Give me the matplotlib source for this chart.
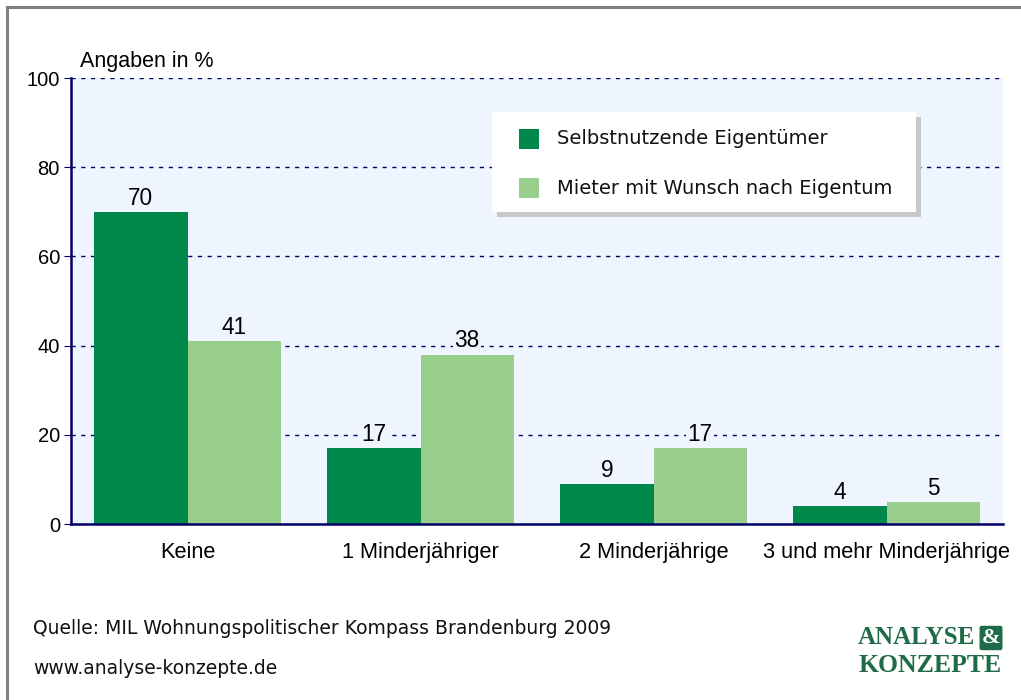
import matplotlib.pyplot as plt
import numpy as np
from matplotlib.patches import Rectangle

categories = ['Keine', '1 Minderjähriger', '2 Minderjährige', '3 und mehr Minderjährige']
eigentuemer = [70, 17, 9, 4]
mieter = [41, 38, 17, 5]
series_names = ['Selbstnutzende Eigentümer', 'Mieter mit Wunsch nach Eigentum']

dark = '#00874a'
light = '#99ce8c'
navy = '#000066'
panel = '#eef5ff'

fig = plt.figure(figsize=(10.21, 7), dpi=100)
ax = fig.add_axes([71/1021, 1-524/700, (1003-71)/1021, (524-78)/700])
ax.set_facecolor(panel)

x = np.arange(len(categories))
w = 0.4
b1 = ax.bar(x - w/2, eigentuemer, w, color=dark, zorder=3)
b2 = ax.bar(x + w/2, mieter, w, color=light, zorder=3)

for bars, vals in ((b1, eigentuemer), (b2, mieter)):
    for r, v in zip(bars, vals):
        ax.annotate(str(v), (r.get_x() + r.get_width()/2, v), xytext=(0, 1.5),
                    textcoords='offset points', ha='center', va='bottom',
                    fontsize=16.3, family='Liberation Sans', zorder=4,
                    bbox=dict(boxstyle='square,pad=0.05', fc=panel, ec='none'))

ax.set_xlim(-0.5, 3.5)
ax.set_ylim(0, 100)
ax.set_yticks([0, 20, 40, 60, 80, 100])
ax.set_xticks(x)
ax.set_xticklabels(categories)
for lab in ax.get_yticklabels():
    lab.set_family('Liberation Sans')
    lab.set_fontsize(14.5)
for lab in ax.get_xticklabels():
    lab.set_family('Liberation Sans')
    lab.set_fontsize(15.7)
ax.tick_params(axis='x', length=0, pad=13)
ax.tick_params(axis='y', length=5, color=navy, pad=3)
ax.grid(axis='y', color=navy, linestyle=(0, (3, 4)), linewidth=1, zorder=1)
for s in ('top', 'right'):
    ax.spines[s].set_visible(False)
for s in ('left', 'bottom'):
    ax.spines[s].set_color(navy)
    ax.spines[s].set_linewidth(1.8)
    ax.spines[s].set_zorder(5)

# legend box with shadow
lx0, ly0, lx1, ly1 = 492, 112, 916, 212
fig.patches.append(Rectangle((lx0 + 5, 700 - ly1 - 5), lx1 - lx0, ly1 - ly0,
                             transform=None, fc='#c8c8c8', ec='none', zorder=5))
fig.patches.append(Rectangle((lx0, 700 - ly1), lx1 - lx0, ly1 - ly0,
                             transform=None, fc='white', ec='none', zorder=6))
for i, (name, col) in enumerate(zip(series_names, (dark, light))):
    yc = 139 + i * 49
    fig.patches.append(Rectangle((519, 700 - yc - 10), 20, 20, transform=None,
                                 fc=col, ec='none', zorder=7))
    fig.text(557/1021, 1 - yc/700, name, fontsize=14, va='center', ha='left',
             family='DejaVu Sans', color='#111111', zorder=8)

fig.text(80/1021, 1 - 62/700, 'Angaben in %', fontsize=15.5, va='center',
         family='Liberation Sans')
fig.text(33/1021, 1 - 628/700, 'Quelle: MIL Wohnungspolitischer Kompass Brandenburg 2009',
         fontsize=13.5, va='center', family='DejaVu Sans', color='#111111')
fig.text(33/1021, 1 - 668/700, 'www.analyse-konzepte.de',
         fontsize=13.5, va='center', family='DejaVu Sans', color='#111111')

# logo
logo_c = '#1f6b47'
fig.text(858/1021, 1 - 638/700, 'ANALYSE', fontsize=18, fontweight='bold',
         family='Liberation Serif', color=logo_c, va='center', ha='left')
fig.text(991/1021, 1 - 638/700, '&', fontsize=16, fontweight='bold',
         family='Liberation Serif', color='white', va='center', ha='center',
         bbox=dict(boxstyle='round,pad=0.1', fc=logo_c, ec='none'))
fig.text(858/1021, 1 - 666/700, 'KONZEPTE', fontsize=18.5, fontweight='bold',
         family='Liberation Serif', color=logo_c, va='center', ha='left')

# outer frame (top and left edges)
fig.add_artist(plt.Line2D([7/1021, 7/1021], [0, 1 - 7/700], transform=fig.transFigure,
                          color='#808080', linewidth=2.2))
fig.add_artist(plt.Line2D([7/1021, 1], [1 - 7/700, 1 - 7/700], transform=fig.transFigure,
                          color='#808080', linewidth=2.2))

fig.savefig('out.png', dpi=100)
